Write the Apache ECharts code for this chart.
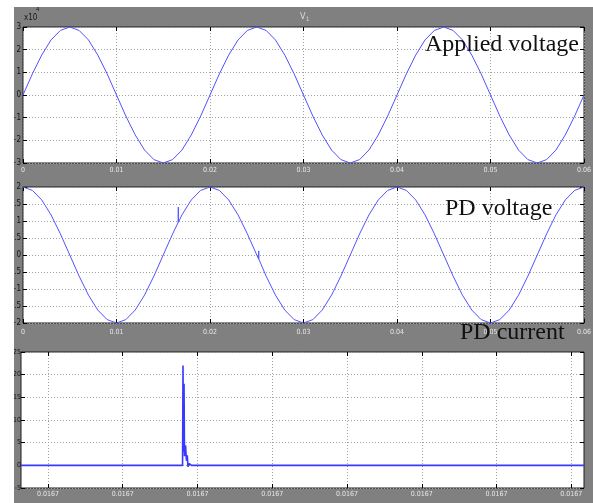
<!DOCTYPE html>
<html><head><meta charset="utf-8">
<script src="https://cdn.jsdelivr.net/npm/echarts@6/dist/echarts.min.js"></script>
<style>
html,body{margin:0;padding:0;background:#fff;width:593px;height:503px;overflow:hidden}
#c{position:absolute;left:14px;top:7px;width:579px;height:496px;background:#808080}
</style></head><body><div id="c"></div>
<script>
// time (s) for the two voltage traces
var timeS = [0,0.001,0.002,0.003,0.004,0.005,0.006,0.007,0.008,0.009,
  0.010,0.011,0.012,0.013,0.014,0.015,0.016,0.017,0.018,0.019,
  0.020,0.021,0.022,0.023,0.024,0.025,0.026,0.027,0.028,0.029,
  0.030,0.031,0.032,0.033,0.034,0.035,0.036,0.037,0.038,0.039,
  0.040,0.041,0.042,0.043,0.044,0.045,0.046,0.047,0.048,0.049,
  0.050,0.051,0.052,0.053,0.054,0.055,0.056,0.057,0.058,0.059,0.060];
// applied voltage (x10^4)
var appliedV = [0,0.93,1.76,2.43,2.85,3,2.85,2.43,1.76,0.93,
  0,-0.93,-1.76,-2.43,-2.85,-3,-2.85,-2.43,-1.76,-0.93,
  0,0.93,1.76,2.43,2.85,3,2.85,2.43,1.76,0.93,
  0,-0.93,-1.76,-2.43,-2.85,-3,-2.85,-2.43,-1.76,-0.93,
  0,0.93,1.76,2.43,2.85,3,2.85,2.43,1.76,0.93,
  0,-0.93,-1.76,-2.43,-2.85,-3,-2.85,-2.43,-1.76,-0.93,0];
// PD voltage
var pdV = [2,1.9,1.62,1.18,0.62,0,-0.62,-1.18,-1.62,-1.9,
  -2,-1.9,-1.62,-1.18,-0.62,0,0.62,1.18,1.62,1.9,
  2,1.9,1.62,1.18,0.62,0,-0.62,-1.18,-1.62,-1.9,
  -2,-1.9,-1.62,-1.18,-0.62,0,0.62,1.18,1.62,1.9,
  2,1.9,1.62,1.18,0.62,0,-0.62,-1.18,-1.62,-1.9,
  -2,-1.9,-1.62,-1.18,-0.62,0,0.62,1.18,1.62,1.9,2];
// small glitches on the PD voltage trace
var glitchT = [0.0166,0.01661,0.01662,0.0252,0.02521,0.02522];
var glitchV = [0.96,1.41,0.96,-0.12,0.12,-0.12];
// PD current (x in tick units of the zoomed axis)
var curT = [-0.361,1.800,1.806,1.812,1.820,1.826,1.840,1.852,1.864,1.872,1.890,1.920,7.170];
var curV = [0,0,22,3,18,2,4.4,1.0,2.2,-0.3,0.4,0,0];
var voltTicks = ['0','0.01','0.02','0.03','0.04','0.05','0.06'];
var curTickPos = [0,1,2,3,4,5,6,7];
var curTickLabel = '0.0167';

function pairs(xs, ys){ return xs.map(function(x,i){return [x, ys[i]];}); }
var pdData = pairs(timeS, pdV).concat(pairs(glitchT, glitchV)).sort(function(a,b){return a[0]-b[0];});

var chart = echarts.init(document.getElementById('c'), null, {renderer:'canvas'});
var lineCol = '#5252ff';
var grid = function(l,t,w){return {left:l,top:t,width:w,height:136,show:true,backgroundColor:'#fff',borderColor:'#1e1e1e',borderWidth:1,containLabel:false,outerBoundsMode:'none'};};
var split = {show:true,lineStyle:{color:'#a0a0a0',type:[1,2],width:1}};
var tick = {show:true,inside:true,length:4,lineStyle:{color:'#000'}};
function xa(gi, pos, labels, extra){
  var o = {type:'value',gridIndex:gi,position:pos,axisLine:{show:false,onZero:false},axisTick:tick,
    splitLine: labels ? split : {show:false},
    axisLabel: labels ? {show:true,color:'#e6e6e6',fontSize:7,fontFamily:'DejaVu Sans Condensed',margin:labels,showMinLabel:true,showMaxLabel:true} : {show:false}};
  for (var k in extra) o[k]=extra[k];
  return o;
}
function ya(gi, pos, labels, min, max, iv, fs, mg){
  return {type:'value',gridIndex:gi,position:pos,min:min,max:max,interval:iv,axisLine:{show:false,onZero:false},axisTick:tick,
    splitLine: labels ? split : {show:false},
    axisLabel: labels ? {show:true,color:'#111',fontSize:fs||8,fontFamily:'DejaVu Sans Condensed',margin:(mg===undefined?2:mg),showMinLabel:true,showMaxLabel:true} : {show:false}};
}
var voltX = {min:0,max:0.06,interval:0.01};
var fmtV = function(v){ return voltTicks[Math.round(v/0.01)]; };
var curX = {min:-0.361,max:7.17};

var option = {
  animation:false,
  grid:[grid(9,20,561),grid(9,180,561),grid(7,345,563)],
  xAxis:[
    xa(0,'bottom',4,Object.assign({},voltX)),
    xa(0,'top',0,Object.assign({},voltX)),
    xa(1,'bottom',6,Object.assign({},voltX)),
    xa(1,'top',0,Object.assign({},voltX)),
    xa(2,'bottom',3,Object.assign({},curX)),
    xa(2,'top',0,Object.assign({},curX))
  ],
  yAxis:[
    ya(0,'left',true,-3,3,1), ya(0,'right',false,-3,3,1),
    ya(1,'left',true,-2,2,0.5), ya(1,'right',false,-2,2,0.5),
    ya(2,'left',true,-5,25,5,7,0), ya(2,'right',false,-5,25,5)
  ],
  series:[
    {type:'line',xAxisIndex:0,yAxisIndex:0,showSymbol:false,data:pairs(timeS,appliedV),lineStyle:{color:lineCol,width:1}},
    {type:'line',xAxisIndex:2,yAxisIndex:2,showSymbol:false,data:pdData,lineStyle:{color:lineCol,width:1}},
    {type:'line',xAxisIndex:4,yAxisIndex:4,showSymbol:false,data:pairs(curT,curV),lineStyle:{color:'#3a3aff',width:1.6}}
  ],
  graphic:[
    {type:'text',left:10,top:7,style:{text:'x10',fontSize:8,fontFamily:'DejaVu Sans Condensed',fill:'#1a1a1a'}},
    {type:'text',left:22,top:-1,style:{text:'4',fontSize:6,fontFamily:'DejaVu Sans Condensed',fill:'#1a1a1a'}},
    {type:'text',left:286,top:5,style:{text:'V',fontSize:9,fontFamily:'DejaVu Sans Condensed',fill:'#dcdcdc'}},
    {type:'text',left:292,top:9,style:{text:'1',fontSize:6,fontFamily:'DejaVu Sans Condensed',fill:'#dcdcdc'}},
    {type:'text',left:411,top:26,z:100,style:{text:'Applied voltage',fontSize:24,fontFamily:'Liberation Serif',fill:'#111'}},
    {type:'text',left:431,top:190,z:100,style:{text:'PD voltage',fontSize:24,fontFamily:'Liberation Serif',fill:'#111'}},
    {type:'text',left:446,top:314,z:100,style:{text:'PD current',fontSize:24,fontFamily:'Liberation Serif',fill:'#111'}}
  ]
};
option.xAxis[0].axisLabel.formatter = fmtV;
option.xAxis[2].axisLabel.formatter = fmtV;
option.xAxis[4].axisTick = Object.assign({}, tick, {customValues: curTickPos});
option.xAxis[4].axisLabel.customValues = curTickPos;
option.xAxis[4].axisLabel.formatter = function(){ return curTickLabel; };
option.xAxis[5].axisTick = Object.assign({}, tick, {customValues: curTickPos});
option.yAxis[2].axisLabel.formatter = function(v){ return String(+v.toFixed(1)); };
chart.setOption(option);
</script></body></html>
